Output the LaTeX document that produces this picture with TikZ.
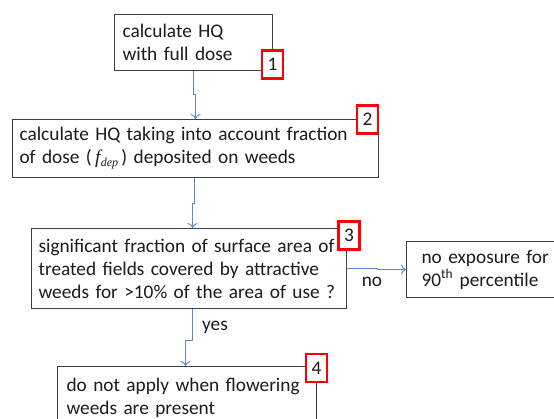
\documentclass[tikz,border=0pt]{standalone}
\usepackage{fontspec}
\setmainfont{Carlito}
\newfontfamily\mserif{Liberation Serif}
\usetikzlibrary{arrows.meta}
\definecolor{boxgray}{HTML}{404040}
\definecolor{arrowblue}{HTML}{5B8BC9}
\definecolor{txt}{HTML}{1C1C1C}
\begin{document}
\begin{tikzpicture}[x=1pt,y=-1pt,
  font=\fontsize{19.3}{23}\selectfont, text=txt,
  box/.style={draw=boxgray,line width=1.1pt,inner ysep=0pt,align=left,anchor=north west,fill=white},
  badge/.style={draw=red,line width=2.4pt,fill=white,inner sep=0pt,minimum width=21pt,minimum height=28pt},
  arr/.style={draw=arrowblue,line width=0.9pt,-{To[length=5pt,width=10pt]}},
  lab/.style={inner sep=0pt}]
\useasboundingbox (0,0) rectangle (554,419);
\clip (0,0) rectangle (554,419);
\fill[white] (0,0) rectangle (554,419);
% boxes
\node[box, minimum height=56pt, text width=142pt, inner xsep=8pt] (b1) at (114,14) {\mbox{calculate HQ}\\\mbox{with full dose}};
\node[box, minimum height=58pt, text width=352pt, inner xsep=7pt] (b2) at (12,119) {\mbox{calculate HQ taking into account fraction}\\\mbox{of dose (\,{\mserif\itshape f\kern0.5pt\raisebox{-3pt}{\fontsize{12}{12}\selectfont dep}}\,) deposited on weeds}};
\node[box, minimum height=80pt, text width=301pt, inner xsep=7pt] (b3) at (31,228) {\mbox{significant fraction of surface area of}\\\mbox{treated fields covered by attractive}\\\mbox{weeds for >10\% of the area of use ?}};
\node[box, minimum height=56pt, text width=130pt, inner xsep=15pt] (b5) at (406,241) {\mbox{no exposure for}\\\mbox{90\textsuperscript{th} percentile}};
\node[box, minimum height=62pt, text width=241pt, inner xsep=9pt] (b4) at (57,366) {\mbox{do not apply when flowering}\\\mbox{weeds are present}};
% connectors
\draw[arr] (b1.south) -- ++(0,23) -| (b2.north);
\draw[arr] ([xshift=-1pt]b2.south) -- ++(0,25) -| ([xshift=3.5pt]b3.north);
\draw[arr] (b3.east) -- ++(30,0) |- (b5.west);
\draw[arr] ([xshift=3.5pt]b3.south) -- ++(0,31) -| ([xshift=-1.5pt]b4.north);
\node[lab] (no) at (372,282) {no};
\node[lab] (yes) at (215,327) {yes};
% badges
\node[badge] (n1) at (272.5,64.5) {1};
\node[badge] (n2) at (367.5,119.5) {2};
\node[badge] (n3) at (349,235.5) {3};
\node[badge] (n4) at (316.5,368) {4};
\end{tikzpicture}
\end{document}
